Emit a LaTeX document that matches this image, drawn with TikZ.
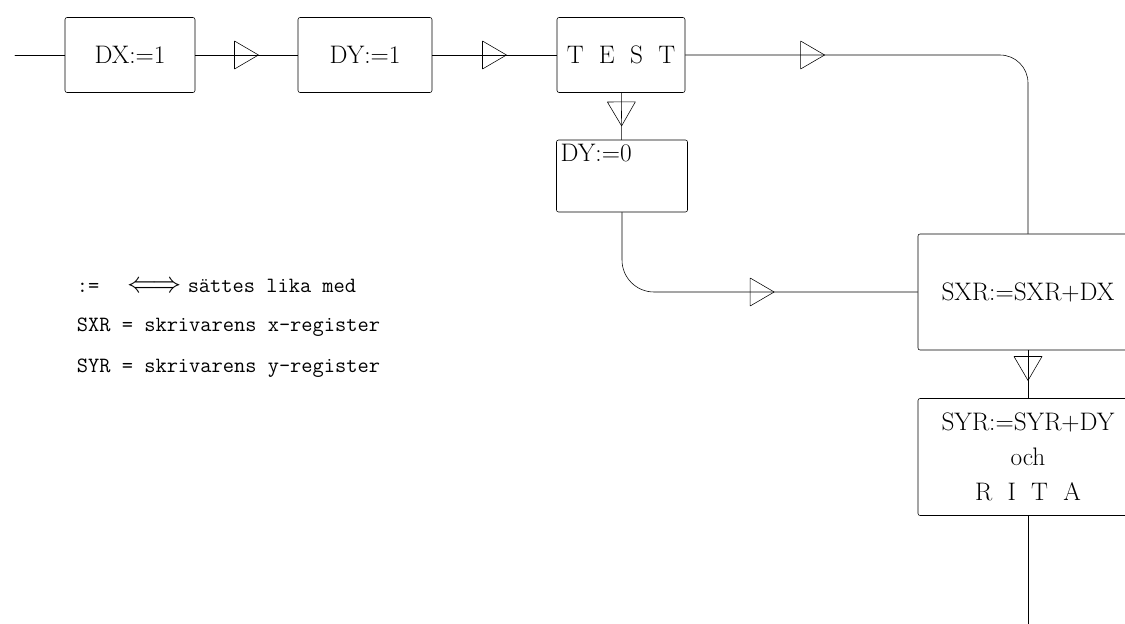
\documentclass[tikz,border=0pt]{standalone}
\usepackage{fontspec}
\usetikzlibrary{decorations.markings}

\begin{document}
\begin{tikzpicture}[x=0.025cm, y=-0.025cm, line cap=round, line join=round, thin, font=\fontsize{18}{21}\selectfont]
	\tikzset{box/.style={draw, rounded corners=1.5pt, inner sep=2pt}}
	\tikzset{flow/.style={postaction={decorate, decoration={markings, mark=at position #1 with {\draw[sharp corners] (-12,14) -- (12,0) -- (-12,-14) -- cycle;}}}}}
	\tikzset{legend/.style={anchor=west, font=\fontsize{15.5}{18}\selectfont\ttfamily}}
	\useasboundingbox (0,0) rectangle (1125,624);
	% top row
	\node[box, minimum width=3.25cm, minimum height=1.875cm] (dx) at (130,55) {DX:=1};
	\node[box, minimum width=3.35cm, minimum height=1.875cm] (dy) at (365,55) {DY:=1};
	\node[box, minimum width=3.2cm, minimum height=1.875cm] (test) at (621,55) {T~~E~~S~~T};
	\node[box, minimum width=3.275cm, minimum height=1.8cm, label={[anchor=north west, inner sep=3pt]north west:DY:=0}] (dy0) at (622,176) {};
	% right column
	\node[box, minimum width=5.5cm, minimum height=2.9cm] (sxr) at (1028,292) {SXR:=SXR+DX};
	\node[box, minimum width=5.5cm, minimum height=2.925cm, align=center, font=\fontsize{18}{25}\selectfont] (syr) at (1028,457) {SYR:=SYR+DY\\och\\R~~I~~T~~A};
	\coordinate (start) at (15,55);
	\coordinate (end) at (1028,624);
	% connectors
	\draw (start) -- (dx);
	\draw[flow=0.5] (dx) -- (dy);
	\draw[flow=0.5] (dy) -- (test);
	\draw[flow=0.25, rounded corners=0.7cm] (test.east) -- (sxr.north |- test.east) -- (sxr.north);
	\draw[flow=0.45] (test) -- (dy0);
	\draw[flow=0.57, rounded corners=0.8cm] (dy0.south) |- (sxr.west);
	\draw[flow=0.38] (sxr) -- (syr);
	\draw (syr) -- (end);
	% legend
	\node[legend] (leg1) at (72,286) {:=\hspace{1.3em}{\fontsize{21}{21}\selectfont$\Longleftrightarrow$}\hspace{0.3em}sättes lika med};
	\node[legend] (leg2) at (72,327) {SXR = skrivarens x-register};
	\node[legend] (leg3) at (72,368) {SYR = skrivarens y-register};
\end{tikzpicture}
\end{document}
